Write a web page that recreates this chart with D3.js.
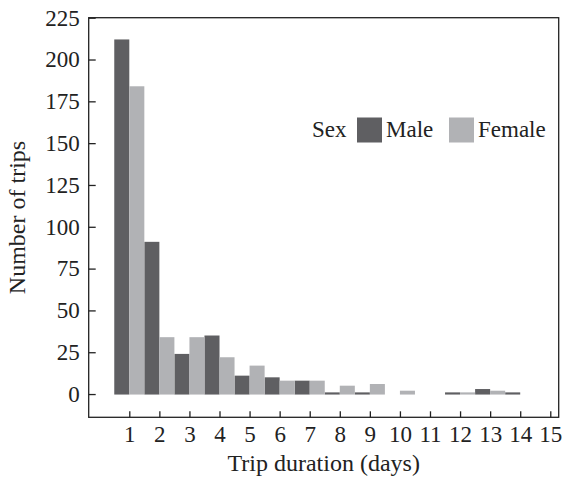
<!DOCTYPE html>
<html>
<head>
<meta charset="utf-8">
<script src="https://cdn.jsdelivr.net/npm/d3@7"></script>
<style>
  html, body { margin: 0; padding: 0; background: #fff; }
  svg { display: block; font-family: "Liberation Serif", "DejaVu Serif", serif; }
</style>
</head>
<body>
<svg id="chart" width="564" height="483"></svg>
<script>
// Trip duration (days) and number of trips per sex
const days = [1, 2, 3, 4, 5, 6, 7, 8, 9, 10, 11, 12, 13, 14, 15];
const maleTrips = [212, 91, 24, 35, 11, 10, 8, 1, 1, 0, 0, 1, 3, 1, 0];
const femaleTrips = [184, 34, 34, 22, 17, 8, 8, 5, 6, 2, 0, 1, 2, 0, 0];
const yTicks = [0, 25, 50, 75, 100, 125, 150, 175, 200, 225];
const seriesNames = ["Male", "Female"];
const seriesColors = ["#5f5f62", "#b1b2b5"];

const width = 564, height = 483;
const margin = { top: 17.7, right: 5.3, bottom: 65.7, left: 88.7 };
const innerW = width - margin.left - margin.right;
const innerH = height - margin.top - margin.bottom;

const svg = d3.select("#chart");
const g = svg.append("g").attr("transform", `translate(${margin.left},${margin.top})`);

const x = d3.scaleLinear().domain([-0.35, 15.28]).range([0, innerW]);
const y = d3.scaleLinear().domain([-13.9, 225]).range([innerH, 0]);

const rows = days.map((d, i) => ({ day: d, values: [maleTrips[i], femaleTrips[i]] }));

// Male bar sits just left of each tick, female bar just right; empty counts draw nothing
const offsets = [-0.5, 0];
seriesNames.forEach((name, s) => {
  g.append("g")
    .selectAll("rect")
    .data(rows.filter(d => d.values[s] > 0))
    .join("rect")
    .attr("x", d => x(d.day + offsets[s]))
    .attr("width", d => x(d.day + offsets[s] + 0.5) - x(d.day + offsets[s]))
    .attr("y", d => y(d.values[s]))
    .attr("height", d => y(0) - y(d.values[s]) + 0.5)
    .attr("fill", seriesColors[s]);
});

// Axes with inward ticks
const yAxis = d3.axisLeft(y).tickValues(yTicks).tickSize(-7).tickPadding(9);
const xAxis = d3.axisBottom(x).tickValues(days).tickSize(-6).tickPadding(8);

const yg = g.append("g").call(yAxis);
const xg = g.append("g").attr("transform", `translate(0,${innerH})`).call(xAxis);

[yg, xg].forEach(a => {
  a.select(".domain").remove();
  a.selectAll(".tick line").attr("stroke", "#222").attr("stroke-width", 1.3);
  a.selectAll(".tick text")
    .attr("fill", "#222")
    .style("font-family", "'Liberation Serif', serif")
    .style("font-size", "23px");
});

// Plot frame
g.append("rect")
  .attr("x", 0).attr("y", 0)
  .attr("width", innerW).attr("height", innerH)
  .attr("fill", "none")
  .attr("stroke", "#222")
  .attr("stroke-width", 1.3);

// Axis titles
svg.append("text")
  .attr("x", margin.left + innerW / 2)
  .attr("y", 471)
  .attr("text-anchor", "middle")
  .attr("fill", "#222")
  .style("font-size", "24px")
  .text("Trip duration (days)");

svg.append("text")
  .attr("transform", `translate(25,${margin.top + innerH / 2}) rotate(-90)`)
  .attr("text-anchor", "middle")
  .attr("fill", "#222")
  .style("font-size", "24px")
  .text("Number of trips");

// Legend
const legend = svg.append("g");
legend.append("text")
  .attr("x", 312).attr("y", 137.3)
  .attr("fill", "#222")
  .style("font-size", "23px")
  .text("Sex");

const legendX = [357, 449];
seriesNames.forEach((name, s) => {
  legend.append("rect")
    .attr("x", legendX[s]).attr("y", 117.5)
    .attr("width", 25).attr("height", 25)
    .attr("fill", seriesColors[s]);
  legend.append("text")
    .attr("x", legendX[s] + 29).attr("y", 137.3)
    .attr("fill", "#222")
    .style("font-size", "23px")
    .text(name);
});
</script>
</body>
</html>
